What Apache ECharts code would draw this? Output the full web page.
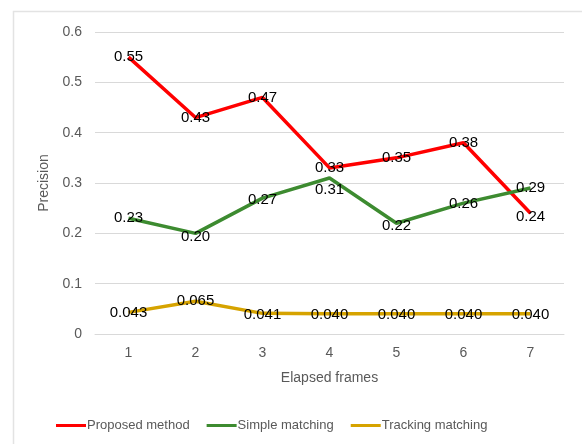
<!DOCTYPE html>
<html>
<head>
<meta charset="utf-8">
<script src="https://cdn.jsdelivr.net/npm/echarts@6/dist/echarts.min.js"></script>
<style>
  html, body { margin: 0; padding: 0; background: #ffffff; }
  #chart { width: 582px; height: 444px; }
</style>
</head>
<body>
<div id="chart"></div>
<script>
// Elapsed frame numbers on the x axis
const frames = ['1', '2', '3', '4', '5', '6', '7'];

// Precision per method
const proposedMethod = [0.55, 0.43, 0.47, 0.33, 0.35, 0.38, 0.24];
const simpleMatching = [0.23, 0.20, 0.27, 0.31, 0.22, 0.26, 0.29];
const trackingMatching = [0.043, 0.065, 0.041, 0.040, 0.040, 0.040, 0.040];

// Y axis ticks
const yTicks = [0, 0.1, 0.2, 0.3, 0.4, 0.5, 0.6];

const labelFont = {
  color: '#000000',
  fontFamily: 'Liberation Sans, Arial, sans-serif',
  fontSize: 15
};

// Vertical nudges (px) for value labels that sit off their point
function makeSeries(name, values, color, decimals, nudges) {
  return {
    name: name,
    type: 'line',
    data: values,
    showSymbol: true,
    symbol: 'circle',
    symbolSize: 0.01,
    showAllSymbol: true,
    lineStyle: { color: color, width: 3.5 },
    itemStyle: { color: color },
    label: Object.assign({
      show: true,
      position: 'inside',
      formatter: function (p) { return p.value.toFixed(decimals); }
    }, labelFont),
    labelLayout: function (p) {
      return { hideOverlap: false, dy: (nudges && nudges[p.dataIndex]) || 0 };
    },
    emphasis: { disabled: true },
    z: 2
  };
}

const chart = echarts.init(document.getElementById('chart'), null, { renderer: 'canvas' });

chart.setOption({
  animation: false,
  backgroundColor: '#ffffff',
  graphic: [{
    type: 'rect',
    shape: { x: 13.5, y: 11.5, width: 620, height: 500 },
    style: { fill: 'none', stroke: '#e3e3e3', lineWidth: 1.5 },
    silent: true,
    z: -1
  }],
  grid: { left: 95, right: 18, top: 32, bottom: 110 },
  legend: {
    left: 51,
    top: 414,
    icon: 'rect',
    itemWidth: 30,
    itemHeight: 3,
    itemGap: 17,
    textStyle: {
      color: '#595959',
      fontFamily: 'Liberation Sans, Arial, sans-serif',
      fontSize: 13,
      padding: [0, 0, 0, -4]
    },
    data: ['Proposed method', 'Simple matching', 'Tracking matching']
  },
  xAxis: {
    type: 'category',
    data: frames,
    boundaryGap: true,
    name: 'Elapsed frames',
    nameLocation: 'middle',
    nameGap: 37,
    nameTextStyle: {
      color: '#595959',
      fontFamily: 'Liberation Sans, Arial, sans-serif',
      fontSize: 14
    },
    axisLine: { show: true, lineStyle: { color: '#d9d9d9', width: 1 } },
    axisTick: { show: false },
    axisLabel: {
      color: '#595959',
      fontFamily: 'Liberation Sans, Arial, sans-serif',
      fontSize: 14,
      margin: 12
    }
  },
  yAxis: {
    type: 'value',
    min: yTicks[0],
    max: yTicks[yTicks.length - 1],
    interval: 0.1,
    name: 'Precision',
    nameLocation: 'middle',
    nameGap: 43,
    nameTextStyle: {
      color: '#595959',
      fontFamily: 'Liberation Sans, Arial, sans-serif',
      fontSize: 14
    },
    axisLine: { show: false },
    axisTick: { show: false },
    axisLabel: {
      color: '#595959',
      fontFamily: 'Liberation Sans, Arial, sans-serif',
      fontSize: 14,
      margin: 13,
      formatter: function (v) {
        return v === 0 ? '0' : String(Math.round(v * 10) / 10);
      }
    },
    splitLine: { lineStyle: { color: '#d9d9d9', width: 1 } }
  },
  series: [
    makeSeries('Proposed method', proposedMethod, '#ff0000', 2,
      [0, 0, 0, 0, 0, 0, 4]),
    makeSeries('Simple matching', simpleMatching, '#3d8b30', 2,
      [0, 4, 2, 12, 3, 1, 0]),
    makeSeries('Tracking matching', trackingMatching, '#d6a300', 3,
      [1, 0, 1, 1, 1, 1, 1])
  ]
});
</script>
</body>
</html>
